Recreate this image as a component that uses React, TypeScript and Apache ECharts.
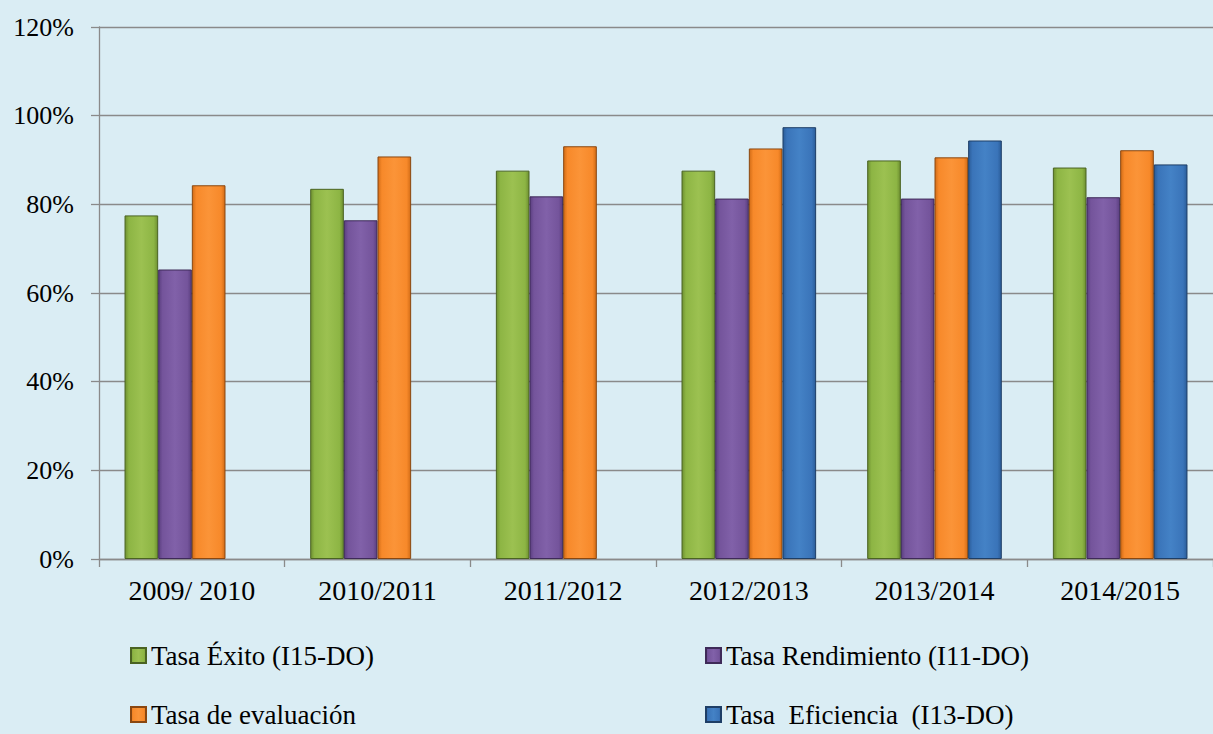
import React, { useEffect, useRef } from "react";
import * as echarts from "echarts";

const categories = ["2009/ 2010", "2010/2011", "2011/2012", "2012/2013", "2013/2014", "2014/2015"];
const seriesNames = [
  "Tasa Éxito (I15-DO)",
  "Tasa Rendimiento (I11-DO)",
  "Tasa de evaluación",
  "Tasa  Eficiencia  (I13-DO)",
];
const exito = [0.775, 0.835, 0.876, 0.876, 0.899, 0.883];
const rendimiento = [0.653, 0.764, 0.818, 0.813, 0.813, 0.816];
const evaluacion = [0.843, 0.908, 0.931, 0.926, 0.906, 0.922];
const eficiencia = [null, null, null, 0.974, 0.944, 0.89];
const yTicks = [0, 0.2, 0.4, 0.6, 0.8, 1.0, 1.2];

const palette = [
  { edge: "#6e9031", mid: "#9cc151", base: "#8db544", border: "#4a6322" },
  { edge: "#5b3f80", mid: "#8161a9", base: "#74549b", border: "#3e2a58" },
  { edge: "#d26c16", mid: "#fb9438", base: "#f7892a", border: "#8a4710" },
  { edge: "#2b5d99", mid: "#4482c6", base: "#3a74b9", border: "#1e3e66" },
];

function grad(c: { edge: string; mid: string; base: string }) {
  return new echarts.graphic.LinearGradient(0, 0, 1, 0, [
    { offset: 0, color: c.edge },
    { offset: 0.12, color: c.base },
    { offset: 0.5, color: c.mid },
    { offset: 0.88, color: c.base },
    { offset: 1, color: c.edge },
  ]);
}

export default function App() {
  const ref = useRef<HTMLDivElement>(null);
  useEffect(() => {
    document.body.style.margin = "0";
    const chart = echarts.init(ref.current!, undefined, { renderer: "svg" });
    const data = [exito, rendimiento, evaluacion, eficiencia];
    const legendPos = [
      { left: 130, top: 642 },
      { left: 705, top: 642 },
      { left: 130, top: 701 },
      { left: 705, top: 701 },
    ];
    chart.setOption({
      animation: false,
      grid: { left: 99, right: 0, top: 27, bottom: 175, containLabel: false },
      legend: seriesNames.map((n, i) => ({
        data: [{ name: n, icon: "rect" }],
        left: legendPos[i].left,
        top: legendPos[i].top,
        padding: 0,
        itemWidth: 15,
        itemHeight: 15,
        itemGap: 4,
        itemTextGap: 3,
        textStyle: { fontFamily: "Times New Roman", fontSize: 27, color: "#000" },
        selectedMode: false,
      })),
      xAxis: {
        type: "category",
        data: categories,
        axisLine: { lineStyle: { color: "#8a8a8a", width: 1.3 } },
        axisTick: { show: true, length: 8, lineStyle: { color: "#8a8a8a", width: 1.3 } },
        axisLabel: { fontFamily: "Liberation Serif", fontSize: 28, color: "#000", margin: 17 },
      },
      yAxis: {
        type: "value",
        min: yTicks[0],
        max: yTicks[yTicks.length - 1],
        interval: 0.2,
        axisLine: { show: true, lineStyle: { color: "#8a8a8a", width: 1.3 } },
        axisTick: { show: true, length: 8, lineStyle: { color: "#8a8a8a", width: 1.3 } },
        splitLine: { lineStyle: { color: "#8a8a8a", width: 1.3 } },
        axisLabel: {
          fontFamily: "Liberation Serif",
          fontSize: 26,
          color: "#000",
          margin: 25,
          formatter: (v: number) => Math.round(v * 100) + "%",
        },
      },
      series: seriesNames.map((n, i) => ({
        name: n,
        type: "bar",
        data: data[i],
        barGap: "0%",
        barCategoryGap: "27.5%",
        itemStyle: {
          color: grad(palette[i]),
          borderColor: palette[i].border,
          borderWidth: 1,
        },
      })),
    });
    return () => chart.dispose();
  }, []);
  return <div ref={ref} style={{ width: 1213, height: 734, background: "#daedf4" }} />;
}
